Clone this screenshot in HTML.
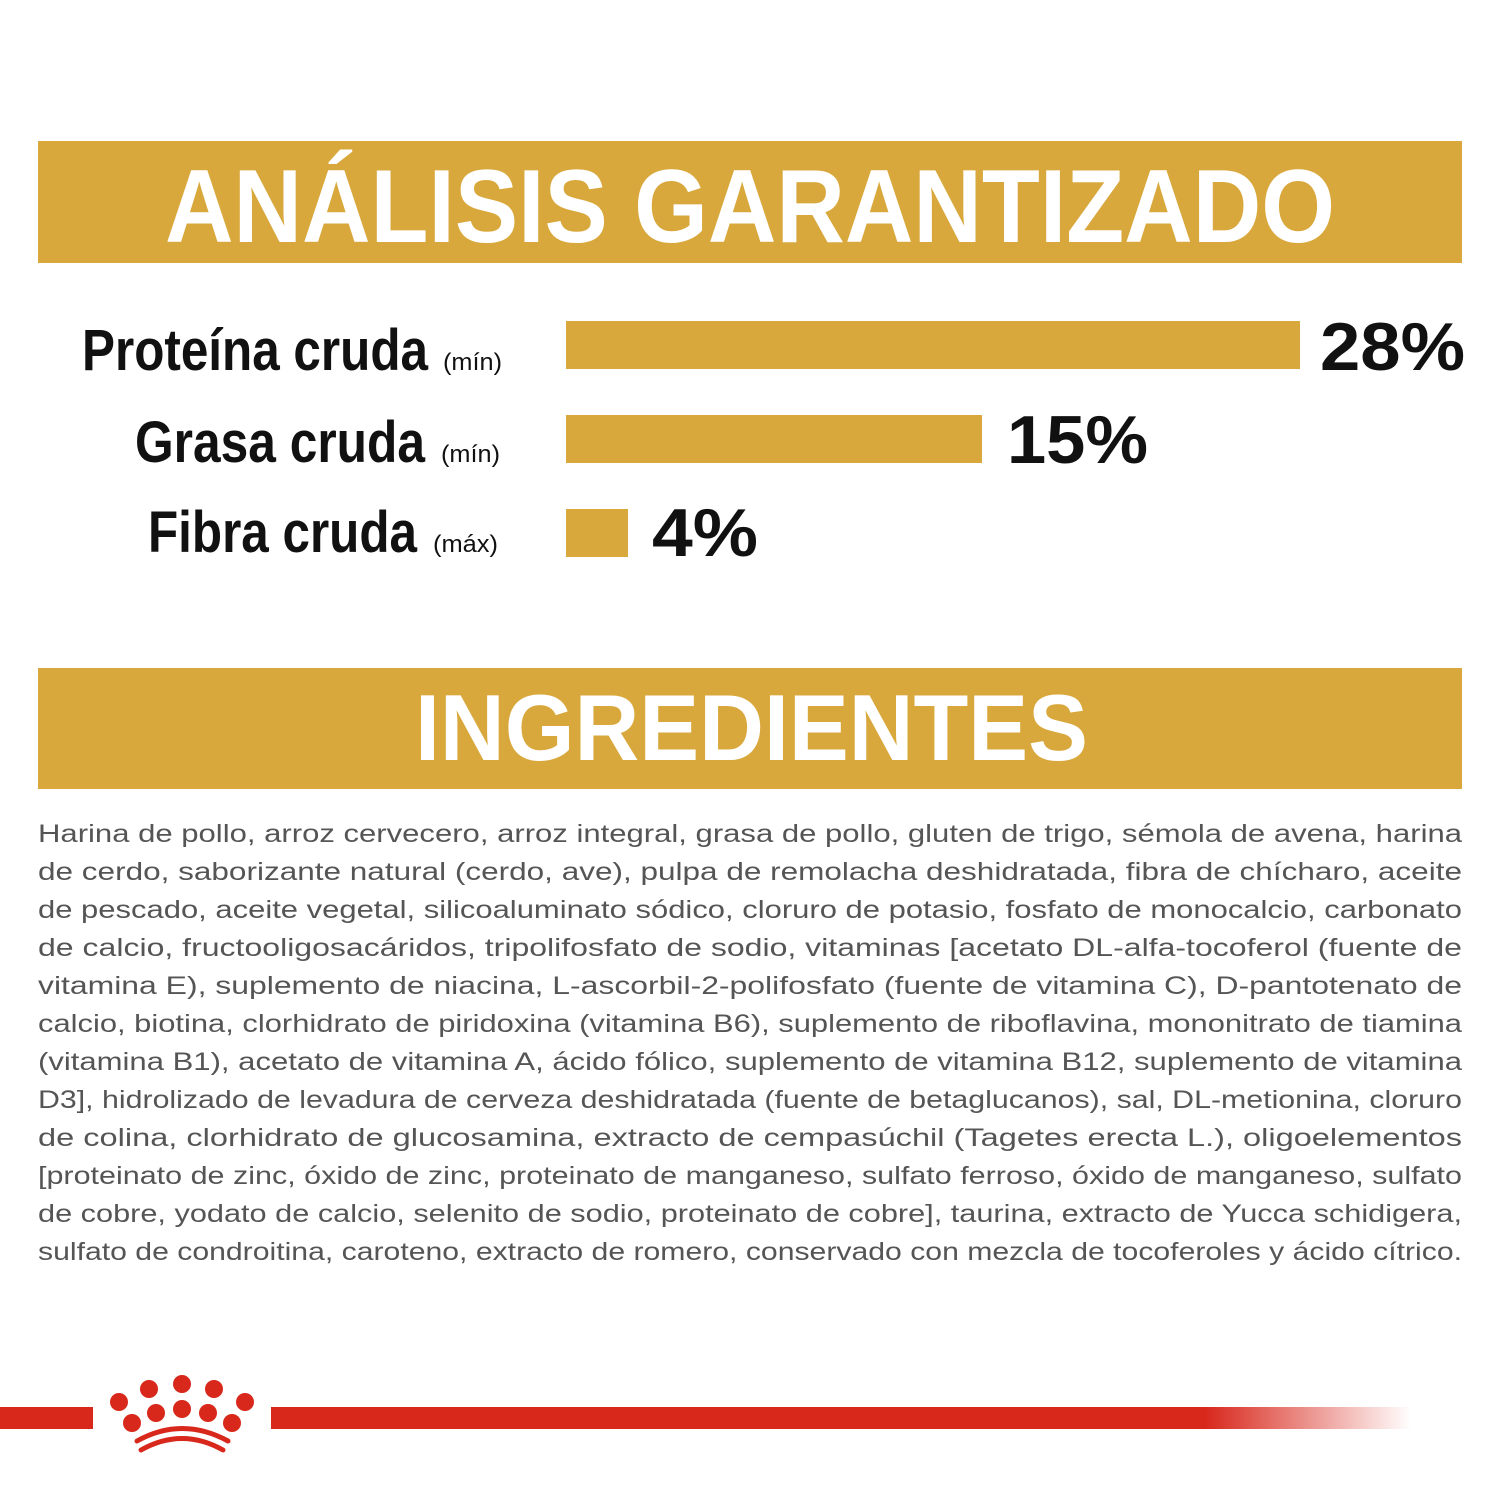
<!DOCTYPE html>
<html><head><meta charset="utf-8"><style>html,body{margin:0;padding:0;background:#fff}svg{display:block}</style></head>
<body>
<svg width="1500" height="1500" viewBox="0 0 1500 1500" xmlns="http://www.w3.org/2000/svg">
<defs>
<linearGradient id="fade" x1="0" x2="1" y1="0" y2="0">
<stop offset="0" stop-color="#d8281c"/><stop offset="0.82" stop-color="#d8281c"/><stop offset="1" stop-color="#d8281c" stop-opacity="0"/>
</linearGradient>
</defs>
<rect width="1500" height="1500" fill="#fff"/>
<rect x="38" y="141" width="1424" height="122" fill="#d9a83c"/>
<text x="165" y="242" textLength="1170" lengthAdjust="spacingAndGlyphs" font-family="Liberation Sans, sans-serif" font-weight="bold" font-size="104" fill="#fff">ANÁLISIS GARANTIZADO</text>

<g font-family="Liberation Sans, sans-serif" font-weight="bold" fill="#111">
<text x="82" y="370" textLength="346" lengthAdjust="spacingAndGlyphs" font-size="58">Proteína cruda</text>
<text x="443" y="370" textLength="59" lengthAdjust="spacingAndGlyphs" font-size="24" font-weight="normal">(mín)</text>
<text x="135" y="462" textLength="290" lengthAdjust="spacingAndGlyphs" font-size="58">Grasa cruda</text>
<text x="441" y="462" textLength="59" lengthAdjust="spacingAndGlyphs" font-size="24" font-weight="normal">(mín)</text>
<text x="148" y="552" textLength="269" lengthAdjust="spacingAndGlyphs" font-size="58">Fibra cruda</text>
<text x="433" y="552" textLength="65" lengthAdjust="spacingAndGlyphs" font-size="24" font-weight="normal">(máx)</text>
<text x="1320" y="370" textLength="145" lengthAdjust="spacingAndGlyphs" font-size="68">28%</text>
<text x="1007" y="463" textLength="141" lengthAdjust="spacingAndGlyphs" font-size="68">15%</text>
<text x="652" y="556" textLength="106" lengthAdjust="spacingAndGlyphs" font-size="68">4%</text>
</g>
<rect x="566" y="321" width="734" height="48" fill="#d9a83c"/>
<rect x="566" y="415" width="416" height="48" fill="#d9a83c"/>
<rect x="566" y="509" width="62" height="48" fill="#d9a83c"/>

<rect x="38" y="668" width="1424" height="121" fill="#d9a83c"/>
<text x="415" y="760" textLength="673" lengthAdjust="spacingAndGlyphs" font-family="Liberation Sans, sans-serif" font-weight="bold" font-size="94" fill="#fff">INGREDIENTES</text>

<g font-family="Liberation Sans, sans-serif" font-size="25" fill="#555">
<text x="38" y="842" textLength="1424" lengthAdjust="spacingAndGlyphs">Harina de pollo, arroz cervecero, arroz integral, grasa de pollo, gluten de trigo, sémola de avena, harina</text>
<text x="38" y="880" textLength="1424" lengthAdjust="spacingAndGlyphs">de cerdo, saborizante natural (cerdo, ave), pulpa de remolacha deshidratada, fibra de chícharo, aceite</text>
<text x="38" y="918" textLength="1424" lengthAdjust="spacingAndGlyphs">de pescado, aceite vegetal, silicoaluminato sódico, cloruro de potasio, fosfato de monocalcio, carbonato</text>
<text x="38" y="956" textLength="1424" lengthAdjust="spacingAndGlyphs">de calcio, fructooligosacáridos, tripolifosfato de sodio, vitaminas [acetato DL-alfa-tocoferol (fuente de</text>
<text x="38" y="994" textLength="1424" lengthAdjust="spacingAndGlyphs">vitamina E), suplemento de niacina, L-ascorbil-2-polifosfato (fuente de vitamina C), D-pantotenato de</text>
<text x="38" y="1032" textLength="1424" lengthAdjust="spacingAndGlyphs">calcio, biotina, clorhidrato de piridoxina (vitamina B6), suplemento de riboflavina, mononitrato de tiamina</text>
<text x="38" y="1070" textLength="1424" lengthAdjust="spacingAndGlyphs">(vitamina B1), acetato de vitamina A, ácido fólico, suplemento de vitamina B12, suplemento de vitamina</text>
<text x="38" y="1108" textLength="1424" lengthAdjust="spacingAndGlyphs">D3], hidrolizado de levadura de cerveza deshidratada (fuente de betaglucanos), sal, DL-metionina, cloruro</text>
<text x="38" y="1146" textLength="1424" lengthAdjust="spacingAndGlyphs">de colina, clorhidrato de glucosamina, extracto de cempasúchil (Tagetes erecta L.), oligoelementos</text>
<text x="38" y="1184" textLength="1424" lengthAdjust="spacingAndGlyphs">[proteinato de zinc, óxido de zinc, proteinato de manganeso, sulfato ferroso, óxido de manganeso, sulfato</text>
<text x="38" y="1222" textLength="1424" lengthAdjust="spacingAndGlyphs">de cobre, yodato de calcio, selenito de sodio, proteinato de cobre], taurina, extracto de Yucca schidigera,</text>
<text x="38" y="1260" textLength="1424" lengthAdjust="spacingAndGlyphs">sulfato de condroitina, caroteno, extracto de romero, conservado con mezcla de tocoferoles y ácido cítrico.</text>
</g>

<rect x="0" y="1407" width="93" height="22" fill="#d8281c"/>
<rect x="271" y="1407" width="1140" height="22" fill="url(#fade)"/>
<g fill="#d8281c">
<circle cx="119" cy="1402" r="9"/><circle cx="149" cy="1389" r="9"/><circle cx="182" cy="1384" r="9"/><circle cx="214" cy="1389" r="9"/><circle cx="245" cy="1402" r="9"/>
<circle cx="132" cy="1423" r="9"/><circle cx="156" cy="1413" r="9"/><circle cx="182" cy="1409" r="9"/><circle cx="208" cy="1413" r="9"/><circle cx="232" cy="1423" r="9"/>
</g>
<g fill="none" stroke="#d8281c" stroke-width="5" stroke-linecap="round">
<path d="M137 1441 Q182 1416 228 1441"/>
<path d="M141 1450 Q182 1427 223 1450"/>
</g>
</svg>
</body></html>
